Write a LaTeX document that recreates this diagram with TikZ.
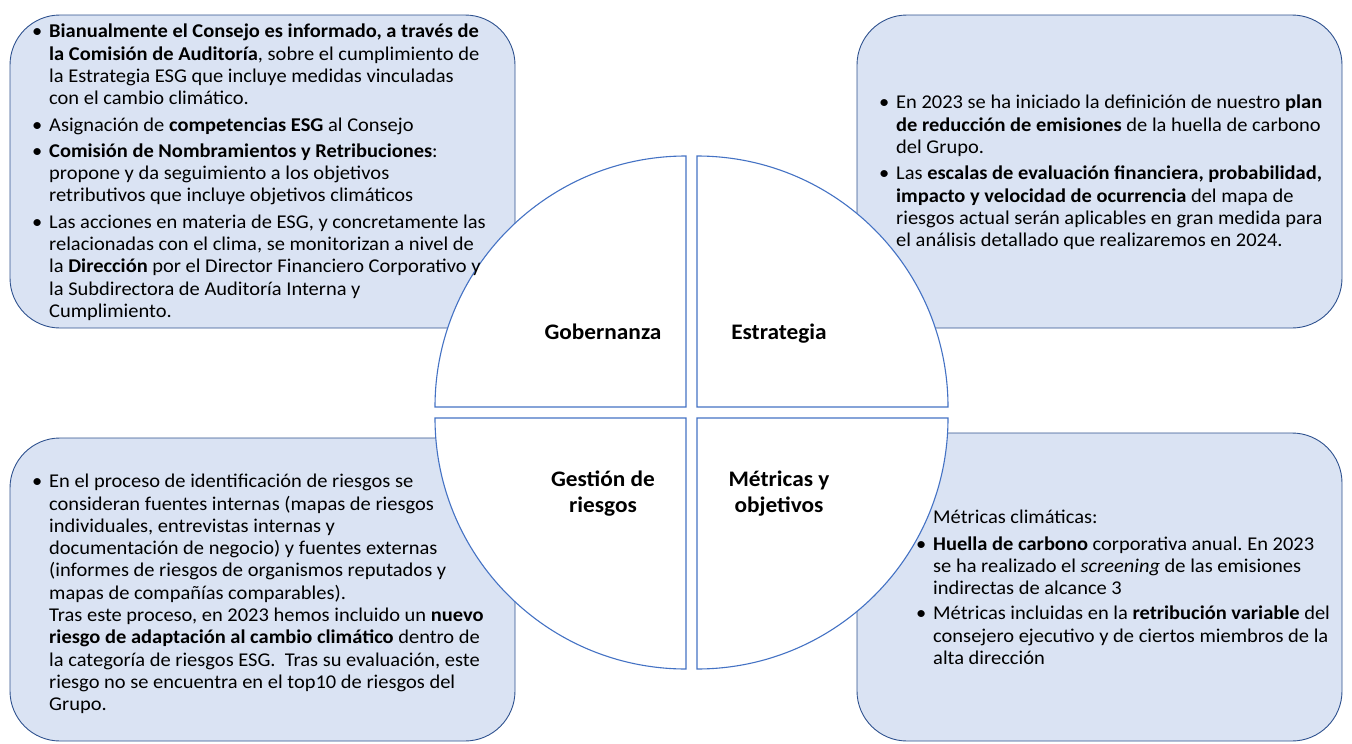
\documentclass[tikz,border=0pt]{standalone}
\usepackage{fontspec}
\setmainfont{Carlito}[FakeStretch=1.05]
\frenchspacing
\definecolor{boxfill}{HTML}{DAE3F3}
\definecolor{boxline}{HTML}{2F528F}
\definecolor{quadline}{HTML}{4472C4}
\newcommand{\bul}{\makebox[0pt][r]{•\hspace{7pt}}}
\tikzset{
  infobox/.style={fill=boxfill, draw=boxline, line width=0.9pt, rounded corners=50pt},
  quad/.style={fill=white, draw=quadline, line width=1.1pt},
  txt/.style={anchor=north west, inner sep=0pt, align=left, text=black,
    font=\fontsize{19.5}{22.3}\selectfont},
  qlabel/.style={inner sep=0pt, align=center, text=black,
    font=\fontsize{22.2}{26}\selectfont\bfseries},
}
\begin{document}
\begin{tikzpicture}[x=1pt,y=-1pt]
\useasboundingbox (0,0) rectangle (1352,744);
% boxes
\draw[infobox] (10,15) rectangle (515,328);
\draw[infobox] (857,15) rectangle (1342,328);
\draw[infobox] (10,438) rectangle (515,741);
\draw[infobox] (857,433) rectangle (1342,741);
% quadrants
\draw[quad] (686,407) -- (435,407) arc[start angle=180, end angle=270, radius=251] -- cycle;
\draw[quad] (697,407) -- (697,156) arc[start angle=270, end angle=360, radius=251] -- cycle;
\draw[quad] (686,418) -- (435,418) arc[start angle=180, end angle=90, radius=251] -- cycle;
\draw[quad] (697,418) -- (948,418) arc[start angle=0, end angle=90, radius=251] -- cycle;
% labels
\node[qlabel, anchor=base] (lgov) at (603,339) {Gobernanza};
\node[qlabel, anchor=base] (lest) at (779,339) {Estrategia};
\node[qlabel] (lges) at (603,494) {Gestión de\\riesgos};
\node[qlabel] (lmet) at (779,494) {Métricas y\\objetivos};
% texts
\node[txt] (tgov) at (49,24) {%
\bul\textbf{Bianualmente el Consejo es informado, a través de}\\
\textbf{la Comisión de Auditoría}, sobre el cumplimiento de\\
la Estrategia ESG que incluye medidas vinculadas\\
con el cambio climático.\\[4pt]
\bul Asignación de \textbf{competencias ESG} al Consejo\\[4pt]
\bul\textbf{Comisión de Nombramientos y Retribuciones}:\\
propone y da seguimiento a los objetivos\\
retributivos que incluye objetivos climáticos\\[4pt]
\bul Las acciones en materia de ESG, y concretamente las\\
relacionadas con el clima, se monitorizan a nivel de\\
la \textbf{Dirección} por el Director Financiero Corporativo y\\
la Subdirectora de Auditoría Interna y\\
Cumplimiento.};
\node[txt] (test) at (896,95) {%
\bul En 2023 se ha iniciado la definición de nuestro \textbf{plan}\\
\textbf{de reducción de emisiones} de la huella de carbono\\
del Grupo.\\[4pt]
\bul Las \textbf{escalas de evaluación financiera, probabilidad,}\\
\textbf{impacto y velocidad de ocurrencia} del mapa de\\
riesgos actual serán aplicables en gran medida para\\
el análisis detallado que realizaremos en 2024.};
\node[txt] (tges) at (49,474) {%
\bul En el proceso de identificación de riesgos se\\
consideran fuentes internas (mapas de riesgos\\
individuales, entrevistas internas y\\
documentación de negocio) y fuentes externas\\
(informes de riesgos de organismos reputados y\\
mapas de compañías comparables).\\
Tras este proceso, en 2023 hemos incluido un \textbf{nuevo}\\
\textbf{riesgo de adaptación al cambio climático} dentro de\\
la categoría de riesgos ESG.\ \ Tras su evaluación, este\\
riesgo no se encuentra en el top10 de riesgos del\\
Grupo.};
\node[txt] (tmet) at (933,510) {%
Métricas climáticas:\\[4pt]
\bul\textbf{Huella de carbono} corporativa anual. En 2023\\
se ha realizado el \textit{screening} de las emisiones\\
indirectas de alcance 3\\[3pt]
\bul Métricas incluidas en la \textbf{retribución variable} del\\
consejero ejecutivo y de ciertos miembros de la\\
alta dirección};
\end{tikzpicture}
\end{document}
